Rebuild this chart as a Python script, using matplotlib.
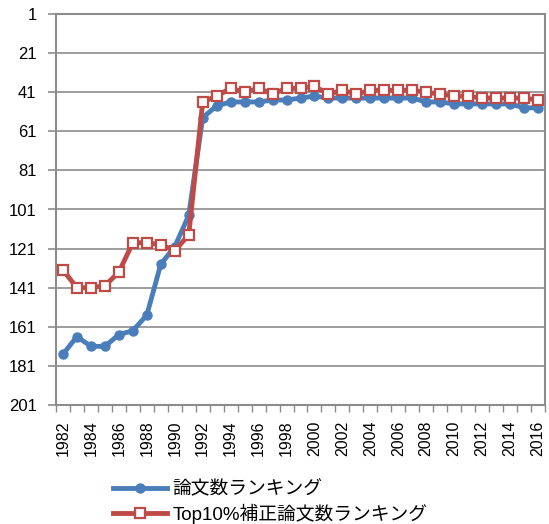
import matplotlib
matplotlib.use("Agg")
import matplotlib.pyplot as plt

years = list(range(1982, 2017))
paper_rank = [175, 166, 171, 171, 165, 163, 155, 129, 120, 104,
              54, 48, 46, 46, 46, 45, 45, 44, 43, 44,
              44, 44, 44, 44, 44, 44, 46, 46, 47, 47,
              47, 47, 47, 49, 49]
top10_rank = [132, 141, 141, 140, 133, 118, 118, 119, 122, 114,
              46, 43, 39, 41, 39, 42, 39, 39, 38, 42,
              40, 42, 40, 40, 40, 40, 41, 42, 43, 43,
              44, 44, 44, 44, 45]
labels = ["論文数ランキング", "Top10%補正論文数ランキング"]
y_ticks = list(range(1, 202, 20))

plt.rcParams['font.family'] = ['Liberation Sans', 'Noto Sans CJK JP']

fig = plt.figure(figsize=(5.49, 5.24), dpi=100)
ax = fig.add_axes([56 / 549, 1 - 405 / 524, 489 / 549, 391 / 524])

gray = "#8c8c8c"
blue = "#4a7ebb"
red = "#be4b48"

ax.plot(years, paper_rank, color=blue, lw=3.5, marker="o", ms=6.5,
        mfc=blue, mec=blue, label=labels[0], zorder=3)
ax.plot(years, top10_rank, color=red, lw=3.5, marker="s", ms=6.5,
        mfc="white", mec=red, mew=1.6, label=labels[1], zorder=4)

ax.set_ylim(201, 1)
ax.set_yticks(y_ticks)
ax.set_xlim(years[0] - 0.5, years[-1] + 0.5)
ax.set_xticks(years[::2])
ax.set_xticklabels([str(y) for y in years[::2]], rotation=90)
ax.set_xticks([y - 0.5 for y in years] + [years[-1] + 0.5], minor=True)

ax.grid(axis="y", color=gray, lw=1.2, zorder=0)
for s in ax.spines.values():
    s.set_color(gray)
    s.set_linewidth(1.5)

ax.tick_params(axis="y", length=6, width=1.2, color=gray, labelsize=12, pad=8)
ax.tick_params(axis="x", which="major", length=0, labelsize=11.5, pad=11)
ax.tick_params(axis="x", which="minor", length=5, width=1, color=gray)

fig.legend(loc="upper left", bbox_to_anchor=(105 / 549, 1 - 473 / 524),
           frameon=False, fontsize=13.5, handlelength=2.9, handletextpad=0.3,
           labelspacing=0.3, borderaxespad=0)

fig.savefig("out.png", dpi=100)
